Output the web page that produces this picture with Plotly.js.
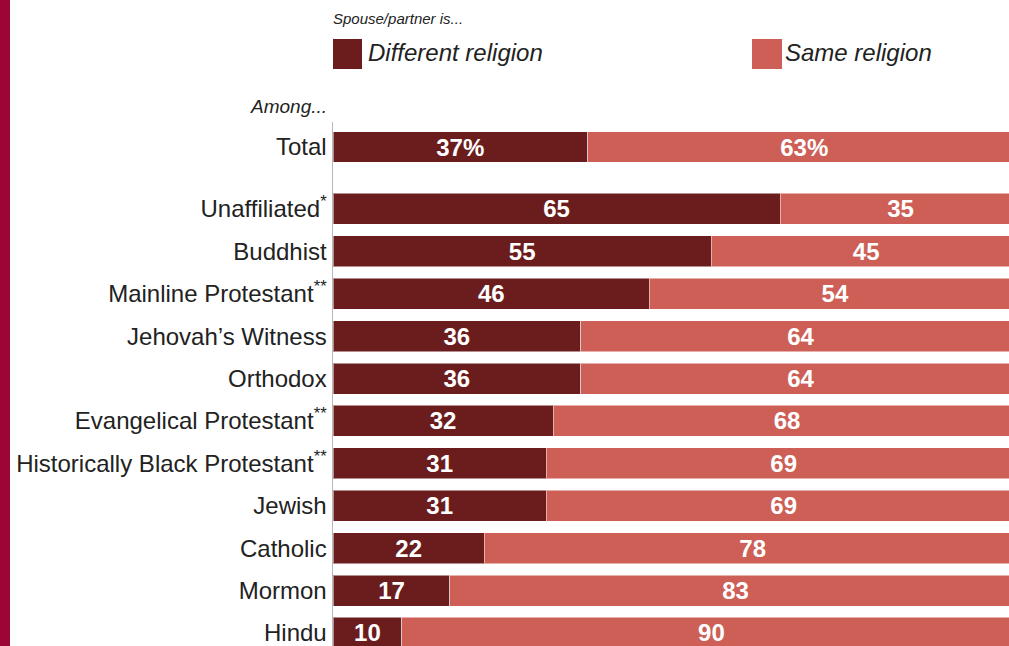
<!DOCTYPE html>
<html><head><meta charset="utf-8">
<script src="https://cdn.plot.ly/plotly-3.0.1.min.js"></script>
<style>html,body{margin:0;padding:0;overflow:hidden;background:#fff;width:1009px;height:646px}
#strip{position:absolute;left:0;top:0;width:10px;height:646px;background:#9c0535;z-index:5}
#chart{position:absolute;left:0;top:0}</style>
</head><body>
<div id="strip"></div>
<div id="chart"></div>
<script>
var categories = ["Total","Unaffiliated<sup>*</sup>","Buddhist","Mainline Protestant<sup>**</sup>","Jehovah’s Witness","Orthodox","Evangelical Protestant<sup>**</sup>","Historically Black Protestant<sup>**</sup>","Jewish","Catholic","Mormon","Hindu"];
var differentReligion = [37,65,55,46,36,36,32,31,31,22,17,10];
var sameReligion = [63,35,45,54,64,64,68,69,69,78,83,90];
var seriesNames = ["Different religion","Same religion"];
var colors = ["#6b1d1e","#cd5f57"];

// row positions: Total, then a gap, then the groups
var yPos = categories.map(function(c,i){ return i===0 ? 0 : 0.46 + i; });
function lab(arr){ return arr.map(function(v,i){ return i===0 ? v+'%' : String(v); }); }

var common = {type:'bar', orientation:'h', y:yPos, width:0.73, textposition:'inside',
  insidetextanchor:'middle', textangle:0, constraintext:'none',
  textfont:{family:'Liberation Sans, Arial, sans-serif', size:24, color:'#fff', weight:'bold'},
  hoverinfo:'none', cliponaxis:false};
var t1 = Object.assign({}, common, {x:differentReligion, text:lab(differentReligion), name:seriesNames[0],
  marker:{color:colors[0], line:{color:'rgba(255,255,255,0.5)', width:1}}});
var t2 = Object.assign({}, common, {x:sameReligion, text:lab(sameReligion), name:seriesNames[1],
  marker:{color:colors[1], line:{color:'rgba(255,255,255,0.5)', width:1}}});

// figure is drawn slightly larger than the window (right and bottom are cropped, as in the reference)
var W = 1021, H = 670, L = 333, T = 122;
var pw = W - L, ph = H - T;
var unit = 42.4;
var yTop = -0.59, yBottom = yTop + ph/unit;
function px(x){ return (x - L)/pw; }
function py(y){ return 1 - (y - T)/ph; }

var layout = {
  width:W, height:H, margin:{l:L, r:0, t:T, b:0, pad:0},
  barmode:'stack', bargap:0, showlegend:false,
  paper_bgcolor:'#fff', plot_bgcolor:'#fff',
  font:{family:'Liberation Sans, Arial, sans-serif', color:'#222'},
  uniformtext:{mode:'show', minsize:8},
  xaxis:{range:[0,100], showgrid:false, zeroline:false, showticklabels:false, fixedrange:true},
  yaxis:{range:[yBottom,yTop], tickvals:yPos, ticktext:categories, showgrid:false, zeroline:false,
    showline:true, linecolor:'#b8b8b8', linewidth:1.5, ticks:'', ticklen:0,
    tickfont:{size:24, color:'#222'}, automargin:false},
  shapes:[
    {type:'rect', xref:'paper', yref:'paper', x0:px(333), x1:px(362), y0:py(69), y1:py(39), fillcolor:colors[0], line:{width:0}},
    {type:'rect', xref:'paper', yref:'paper', x0:px(752), x1:px(782), y0:py(69), y1:py(39), fillcolor:colors[1], line:{width:0}}
  ],
  annotations:[
    {xref:'paper', yref:'paper', x:px(331), y:py(18), xanchor:'left', yanchor:'middle', showarrow:false,
      text:'<i>Spouse/partner is...</i>', font:{size:15, color:'#222'}},
    {xref:'paper', yref:'paper', x:px(366), y:py(53), xanchor:'left', yanchor:'middle', showarrow:false,
      text:'<i>'+seriesNames[0]+'</i>', font:{size:24, color:'#222'}},
    {xref:'paper', yref:'paper', x:px(783), y:py(53), xanchor:'left', yanchor:'middle', showarrow:false,
      text:'<i>'+seriesNames[1]+'</i>', font:{size:24, color:'#222'}},
    {xref:'paper', yref:'paper', x:px(329), y:py(107), xanchor:'right', yanchor:'middle', showarrow:false,
      text:'<i>Among...</i>', font:{size:19, color:'#222'}}
  ]
};
Plotly.newPlot('chart', [t1,t2], layout, {displayModeBar:false, staticPlot:true});
</script>
</body></html>
